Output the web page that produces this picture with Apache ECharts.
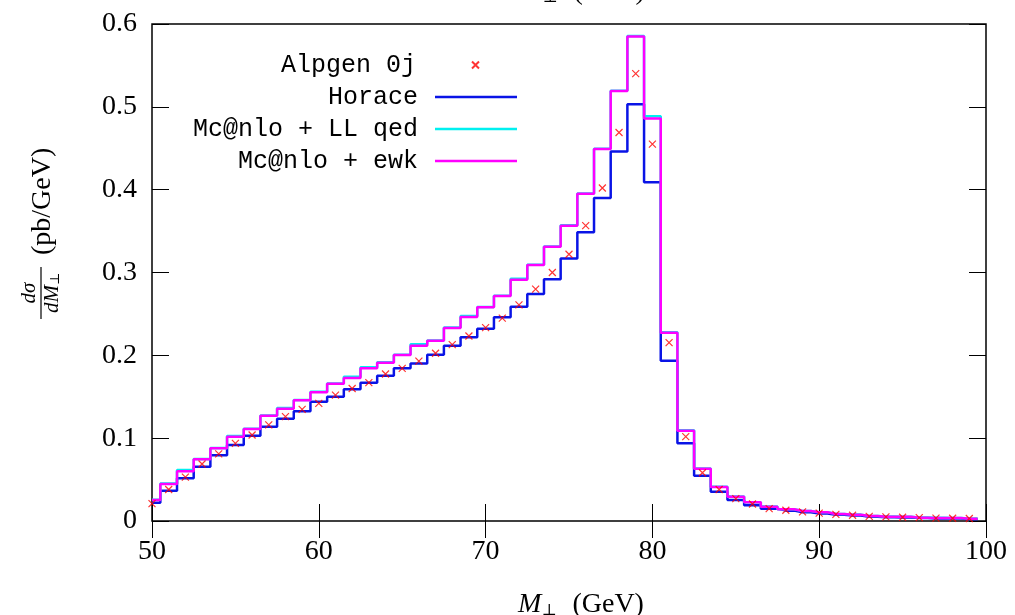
<!DOCTYPE html>
<html>
<head>
<meta charset="utf-8">
<script src="https://cdn.jsdelivr.net/npm/echarts@6/dist/echarts.min.js"></script>
<style>
html,body{margin:0;padding:0;background:#fff;}
#chart{width:1015px;height:615px;}
</style>
</head>
<body>
<div id="chart"></div>
<script>
// Bin centres (GeV)
const mPerp = [50,51,52,53,54,55,56,57,58,59,60,61,62,63,64,65,66,67,68,69,70,71,72,73,74,75,76,77,78,79,80,81,82,83,84,85,86,87,88,89,90,91,92,93,94,95,96,97,98,99];

const alpgen0j = [0.021,0.038,0.053,0.0688,0.081,0.0938,0.1038,0.116,0.126,0.1348,
  0.142,0.152,0.160,0.167,0.1775,0.1843,0.193,0.2025,0.213,0.2233,
  0.2334,0.245,0.261,0.280,0.300,0.322,0.3565,0.402,0.469,0.540,
  0.455,0.2153,0.1018,0.0583,0.038,0.027,0.0205,0.015,0.013,0.011,
  0.0095,0.008,0.007,0.0055,0.005,0.0045,0.004,0.0035,0.0033,0.003];

const horace = [0.022,0.0366,0.0515,0.0656,0.0793,0.0917,0.103,0.1139,0.1235,0.1324,
  0.144,0.150,0.159,0.167,0.1754,0.1843,0.190,0.2008,0.2117,0.2217,
  0.232,0.2459,0.2587,0.274,0.292,0.317,0.3485,0.390,0.446,0.503,
  0.409,0.1935,0.0938,0.0547,0.0354,0.0253,0.019,0.0149,0.0125,0.0105,
  0.009,0.0075,0.0065,0.0052,0.0045,0.0042,0.0035,0.003,0.003,0.0022];

const mcnloLLqed = [0.0258,0.0452,0.0615,0.0748,0.0882,0.1025,0.1115,0.1275,0.1365,0.1462,
  0.156,0.166,0.174,0.1855,0.1915,0.2008,0.2135,0.218,0.2335,0.2475,
  0.2585,0.272,0.2925,0.3095,0.3315,0.357,0.3955,0.4495,0.5195,0.5855,
  0.4885,0.2278,0.1095,0.0635,0.0412,0.0296,0.0227,0.0174,0.0142,0.0121,
  0.0106,0.0086,0.0077,0.0061,0.0053,0.0051,0.0041,0.0038,0.0036,0.0029];

const mcnloEwk = [0.0254,0.0447,0.060,0.0744,0.0877,0.1018,0.111,0.127,0.1356,0.1457,
  0.1553,0.1656,0.1726,0.1843,0.191,0.2004,0.2117,0.2177,0.233,0.2463,
  0.258,0.2716,0.2912,0.309,0.331,0.3565,0.395,0.449,0.519,0.585,
  0.486,0.2273,0.109,0.0631,0.041,0.0294,0.0225,0.0173,0.0141,0.012,
  0.0105,0.0085,0.0076,0.006,0.0052,0.005,0.004,0.0037,0.0036,0.0028];

const xTicks = [50,60,70,80,90,100];
const yTickLabels = ['0','0.1','0.2','0.3','0.4','0.5','0.6'];

const seriesNames = ['Alpgen 0j','Horace','Mc@nlo + LL qed','Mc@nlo + ewk'];
const seriesColors = ['#ff0000','#0a14e6','#00f0f0','#ff00ff'];

// histogram steps: each value holds over [x - w/2, x + w/2]
const halfBin = (mPerp[1] - mPerp[0]) / 2;
function stepData(vals){
  const d = mPerp.map((x,i)=>[x, vals[i]]);
  d.push([mPerp[mPerp.length-1] + halfBin, vals[vals.length-1]]);
  return d;
}

const serif = 'Liberation Serif';
const mono = 'Liberation Mono';
const FS = 28;
const chart = echarts.init(document.getElementById('chart'), null, {renderer:'canvas'});

const tickStyle = {inside:true, length:17, lineStyle:{color:'#000', width:1}};
function xAx(pos, showLabel){
  return {
    type:'value', position:pos, min:xTicks[0], max:xTicks[xTicks.length-1], interval:xTicks[1]-xTicks[0],
    axisLine:{show:false}, splitLine:{show:false}, axisTick:tickStyle,
    axisLabel:{show:showLabel, margin:17, fontFamily:serif, fontSize:FS, color:'#000'},
  };
}
function yAx(pos, showLabel){
  return {
    type:'value', position:pos, min:0, max:0.6, interval:0.1,
    axisLine:{show:false}, splitLine:{show:false}, axisTick:tickStyle,
    axisLabel:{show:showLabel, margin:15, fontFamily:serif, fontSize:FS, color:'#000',
      formatter:(v)=> yTickLabels[Math.round(v*10)]},
  };
}

const mathRich = {
  i:{fontFamily:serif, fontStyle:'italic', fontSize:FS, color:'#000'},
  s:{fontFamily:'DejaVu Serif', fontSize:16, color:'#000', padding:[11,9,0,0]}
};
const xAxisBottom = xAx('bottom', true);
xAxisBottom.name = '{i|M}{s|⊥} (GeV)';
xAxisBottom.nameLocation = 'middle';
xAxisBottom.nameGap = 70;
xAxisBottom.nameTextStyle = {fontFamily:serif, fontSize:FS, color:'#000', padding:[0,0,0,24], rich:mathRich};

function legendFor(name, rowCenter, rightPx, icon, iconW, iconH, gapPad){
  return {
    data:[{name:name, icon:icon}], orient:'horizontal', align:'right', right:1015-rightPx, top:rowCenter-14,
    padding:0, itemWidth:iconW, itemHeight:iconH, selectedMode:false,
    textStyle:{fontFamily:mono, fontSize:25, color:'#000', lineHeight:28, padding:[0,gapPad,0,0]},
  };
}

const option = {
  backgroundColor:'#fff',
  animation:false,
  grid:{left:152, right:29, top:24, bottom:94, outerBoundsMode:'none', containLabel:false,
        show:true, borderColor:'#000', borderWidth:1.5, backgroundColor:'transparent'},
  xAxis:[xAxisBottom, xAx('top', false)],
  yAxis:[yAx('left', true), yAx('right', false)],
  legend:[
    legendFor(seriesNames[0], 65, 480, 'path://M0,0L10,10M10,0L0,10', 7, 7, 51),
    legendFor(seriesNames[1], 97, 517, 'rect', 82, 2.5, 12),
    legendFor(seriesNames[2], 129, 517, 'rect', 82, 2.5, 12),
    legendFor(seriesNames[3], 161, 517, 'rect', 82, 2.5, 12),
  ],
  series:[
    {name:seriesNames[1], type:'line', step:'middle', symbol:'none', data:stepData(horace),
     lineStyle:{color:seriesColors[1], width:2.5}, itemStyle:{color:seriesColors[1]}, z:2},
    {name:seriesNames[2], type:'line', step:'middle', symbol:'none', data:stepData(mcnloLLqed),
     lineStyle:{color:seriesColors[2], width:2.5}, itemStyle:{color:seriesColors[2]}, z:3},
    {name:seriesNames[3], type:'line', step:'middle', symbol:'none', data:stepData(mcnloEwk),
     lineStyle:{color:seriesColors[3], width:2.5}, itemStyle:{color:seriesColors[3]}, z:4},
    {name:seriesNames[0], type:'scatter', data:mPerp.map((x,i)=>[x, alpgen0j[i]]),
     symbol:'path://M0,0L10,10M10,0L0,10', symbolSize:7,
     itemStyle:{color:seriesColors[0], borderColor:seriesColors[0], borderWidth:1.2}, z:5},
  ],
  graphic:[
    {type:'text', x:582, y:6, z:10,
     style:{text:'{i|M}{s|⊥} (GeV)', fontFamily:serif, fontSize:FS, fill:'#000', align:'center', verticalAlign:'bottom',
       rich:{i:{fontFamily:serif, fontStyle:'italic', fontSize:FS, fill:'#000'},
             s:{fontFamily:'DejaVu Serif', fontSize:16, fill:'#000', padding:[11,9,0,0]}}}},
    {type:'group', x:41, y:293, rotation:Math.PI/2, children:[
      {type:'text', x:0, y:-1, style:{text:'{i|dσ}', align:'center', verticalAlign:'bottom',
        rich:{i:{fontFamily:serif, fontStyle:'italic', fontSize:21, fill:'#000'}}}},
      {type:'line', shape:{x1:-26, y1:0, x2:26, y2:0}, style:{stroke:'#000', lineWidth:1.2}},
      {type:'text', x:0, y:1, style:{text:'{i|dM}{s|⊥}', align:'center', verticalAlign:'top',
        rich:{i:{fontFamily:serif, fontStyle:'italic', fontSize:21, fill:'#000'},
              s:{fontFamily:'DejaVu Serif', fontSize:13, fill:'#000', padding:[7,0,0,0]}}}},
      {type:'text', x:38, y:2, style:{text:'(pb/GeV)', fontFamily:serif, fontSize:FS, fill:'#000', align:'left', verticalAlign:'middle'}},
    ]},
  ],
};
chart.setOption(option);
</script>
</body>
</html>
